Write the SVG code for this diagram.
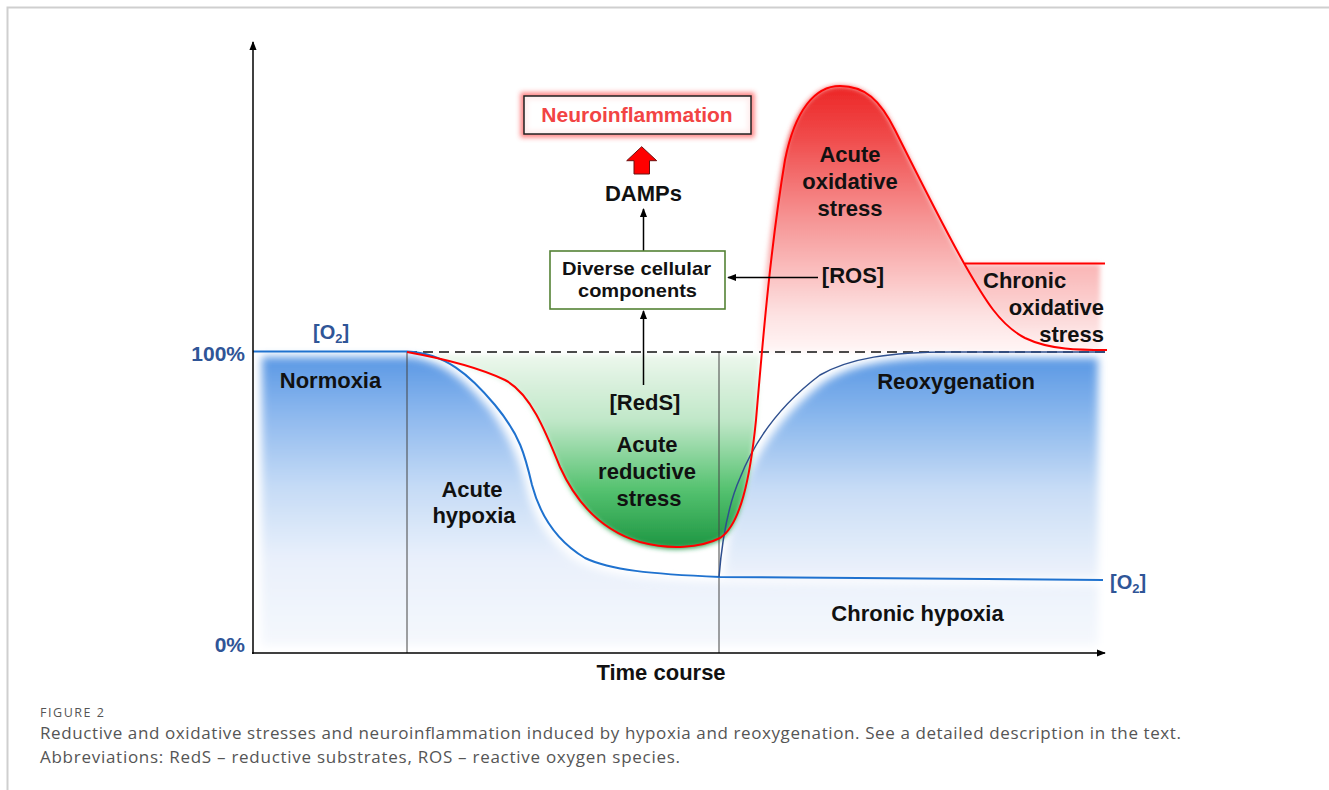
<svg xmlns="http://www.w3.org/2000/svg" width="1329" height="790" viewBox="0 0 1329 790">
<style>
.lb{font-family:"Liberation Sans",Arial,sans-serif;font-weight:bold;font-size:22px;fill:#111;text-anchor:middle}
.st{text-anchor:start}
.en{text-anchor:end}
.bl{font-family:"Liberation Sans",Arial,sans-serif;font-weight:bold;font-size:21px;fill:#2f5597}
.cap{font-family:"Open Sans","Liberation Sans",sans-serif;fill:#555}
.arr{stroke:#000;stroke-width:1.5;fill:none;marker-end:url(#ah)}
</style>
<defs>
<marker id="ah" viewBox="0 0 10 10" refX="9" refY="5" markerWidth="9" markerHeight="9" orient="auto" markerUnits="userSpaceOnUse"><path d="M0,1 L10,5 L0,9 Z" fill="#000"/></marker>
<filter id="soft" x="-10%" y="-10%" width="120%" height="120%"><feGaussianBlur stdDeviation="4"/></filter>
<filter id="soft2" x="-10%" y="-10%" width="120%" height="120%"><feGaussianBlur stdDeviation="2.5"/></filter>
<filter id="glow" x="-20%" y="-50%" width="140%" height="200%"><feGaussianBlur stdDeviation="2.5"/></filter>
<linearGradient id="gBlue" gradientUnits="userSpaceOnUse" x1="0" y1="357" x2="0" y2="645">
<stop offset="0" stop-color="#5a98e4"/><stop offset="0.2" stop-color="#8db8ee"/><stop offset="0.45" stop-color="#c5dbf6"/><stop offset="0.7" stop-color="#e9f0fb"/><stop offset="1" stop-color="#f5f8fd"/>
</linearGradient>
<linearGradient id="gReox" gradientUnits="userSpaceOnUse" x1="0" y1="358" x2="0" y2="580">
<stop offset="0" stop-color="#5a98e4"/><stop offset="0.3" stop-color="#90bbee"/><stop offset="0.6" stop-color="#c9ddf6"/><stop offset="1" stop-color="#eef3fb"/>
</linearGradient>
<linearGradient id="gGreen" gradientUnits="userSpaceOnUse" x1="0" y1="352" x2="0" y2="548">
<stop offset="0" stop-color="#eef8ee"/><stop offset="0.35" stop-color="#c0e7c8"/><stop offset="0.7" stop-color="#55c270"/><stop offset="1" stop-color="#1d9642"/>
</linearGradient>
<linearGradient id="gRed" gradientUnits="userSpaceOnUse" x1="0" y1="86" x2="0" y2="352">
<stop offset="0" stop-color="#ec2626"/><stop offset="0.18" stop-color="#f04848"/><stop offset="0.5" stop-color="#f69494"/><stop offset="0.85" stop-color="#fde0e0"/><stop offset="1" stop-color="#fff6f6"/>
</linearGradient>
<linearGradient id="gChr" gradientUnits="userSpaceOnUse" x1="0" y1="263" x2="0" y2="352">
<stop offset="0" stop-color="#f9b4b4"/><stop offset="0.6" stop-color="#fcd8d8"/><stop offset="1" stop-color="#fff4f4"/>
</linearGradient>
</defs>
<rect width="1329" height="790" fill="#fff"/>
<path d="M7.5,790 L7.5,7.5 L1329,7.5" fill="none" stroke="#cfcfcf" stroke-width="2"/>

<g id="fills">
<path d="M262,357 L405,357 C440,358 465,380 490,410 C508,435 520,460 527,490 C535,520 550,545 580,563 C610,576 650,580 720,582 L1098,585 L1098,645 L262,645 Z" fill="url(#gBlue)" filter="url(#soft)"/>
<path d="M724,578 C727,545 733,510 745,483 C760,448 785,412 823,383 C852,364 890,358 950,358 L1098,358 L1098,578 Z" fill="url(#gReox)" filter="url(#soft)"/>
<path d="M418,355 C445,360 482,370 505,382 C530,395 545,432 560,469 C575,502 600,532 640,544 C670,552 700,550 720,540 C740,527 750,482 756,422 L760,355 Z" fill="url(#gGreen)" filter="url(#soft2)"/>
<path d="M962,264 L1100,264 L1100,350 L962,350 Z" fill="url(#gChr)" filter="url(#soft2)"/>
<path d="M758,352 C763,290 770,230 783,160 C793,110 815,86 840,86 C865,86 880,100 895,130 C915,170 945,230 965,265 C985,300 1000,325 1025,338 C1050,350 1080,350 1107,350 L1107,352 Z" fill="url(#gRed)" filter="url(#soft2)"/>
</g>

<g id="gridlines">
<line x1="407" y1="352" x2="407" y2="653" stroke="#444" stroke-width="1"/>
<line x1="719" y1="352" x2="719" y2="653" stroke="#444" stroke-width="1"/>
<line x1="407" y1="352" x2="1108" y2="352" stroke="#111" stroke-width="1.6" stroke-dasharray="10,6"/>
</g>

<g id="curves">
<path id="o2curve" d="M253,351.5 L407,351.5 C445,353 470,375 495,405 S525,455 532,485 C540,515 555,540 585,558 C610,570 650,574 720,577 L1103,580" fill="none" stroke="#1f72cf" stroke-width="2"/>
<path id="reoxcurve" d="M719,577 C722,540 728,505 740,478 C755,440 780,405 820,375 C850,358 890,352 950,352 L1105,352" fill="none" stroke="#2e4f8e" stroke-width="1.5"/>
<path id="redcurve" d="M407,352 C440,358 480,368 505,380 C530,393 545,430 560,467 C575,500 600,530 640,542 C670,550 700,548 720,538 C740,525 750,480 756,420 C762,350 770,250 785,160 C795,110 815,86 840,86 C865,86 880,100 895,130 C915,170 945,230 965,265 C985,300 1000,325 1025,338 C1050,350 1080,350 1107,350" fill="none" stroke="#ff0000" stroke-width="2"/>
<line x1="965" y1="263.5" x2="1105" y2="263.5" stroke="#ff0000" stroke-width="2"/>
</g>

<g id="axes">
<line x1="253" y1="654" x2="253" y2="42" class="arr" stroke-width="2"/>
<line x1="252" y1="653" x2="1105" y2="653" class="arr" stroke-width="2"/>
<text class="bl en" x="245" y="361">100%</text>
<text class="bl en" x="245" y="652">0%</text>
<text class="lb" x="661" y="680">Time course</text>
</g>

<g id="connectors">
<line x1="643.5" y1="251" x2="643.5" y2="209" class="arr"/>
<line x1="643.5" y1="385" x2="643.5" y2="311" class="arr"/>
<line x1="818" y1="277.5" x2="728" y2="277.5" class="arr"/>
<polygon points="641.7,146.7 656.7,160.7 649.5,160.7 649.5,174 634,174 634,160.7 626.7,160.7" fill="#ff0000" stroke="#6a1010" stroke-width="1"/>
</g>

<g id="neuroinflammation">
<rect x="524" y="96" width="227" height="38" fill="none" stroke="#ff4a4a" stroke-width="7" opacity="0.7" filter="url(#glow)"/>
<rect x="524" y="96" width="227" height="38" fill="#fff" fill-opacity="0.85" stroke="#222" stroke-width="1.5"/>
<text x="637" y="122" font-family="Liberation Sans, Arial, sans-serif" font-weight="bold" font-size="21" fill="#f24444" text-anchor="middle">Neuroinflammation</text>
</g>

<g id="damps"><text class="lb" x="643.5" y="201">DAMPs</text></g>

<g id="cellular">
<rect x="550" y="251" width="175" height="58" fill="#fff" stroke="#548235" stroke-width="1.6"/>
<text class="lb" x="636.5" y="274.5" font-size="19" textLength="149" lengthAdjust="spacingAndGlyphs" style="font-size:19px">Diverse cellular</text>
<text class="lb" x="637.5" y="296.5" textLength="119" lengthAdjust="spacingAndGlyphs" style="font-size:19px">components</text>
</g>

<g id="labels">
<text class="lb" x="645" y="410">[RedS]</text>
<text class="lb" x="853" y="283">[ROS]</text>
<text class="lb" x="647" y="452">Acute</text>
<text class="lb" x="647" y="479">reductive</text>
<text class="lb" x="649" y="506">stress</text>
<text class="lb" x="850" y="162">Acute</text>
<text class="lb" x="850" y="189">oxidative</text>
<text class="lb" x="850" y="216">stress</text>
<text class="lb st" x="983" y="288">Chronic</text>
<text class="lb en" x="1104" y="315">oxidative</text>
<text class="lb en" x="1104" y="342">stress</text>
<text class="lb" x="330.5" y="388">Normoxia</text>
<text class="lb" x="956" y="389">Reoxygenation</text>
<text class="lb" x="472" y="497">Acute</text>
<text class="lb" x="474" y="523">hypoxia</text>
<text class="lb" x="917.5" y="621">Chronic hypoxia</text>
<text class="bl" x="313" y="339" style="font-size:20px">[O<tspan style="font-size:13px" dy="4">2</tspan><tspan dy="-4">]</tspan></text>
<text class="bl" x="1110" y="589" style="font-size:20px">[O<tspan style="font-size:13px" dy="4">2</tspan><tspan dy="-4">]</tspan></text>
</g>

<g id="caption">
<text class="cap" x="40" y="717" font-size="12.5" textLength="64" lengthAdjust="spacing">FIGURE 2</text>
<text class="cap" x="40" y="739" font-size="17" textLength="1141" lengthAdjust="spacing">Reductive and oxidative stresses and neuroinflammation induced by hypoxia and reoxygenation. See a detailed description in the text.</text>
<text class="cap" x="40" y="763" font-size="17" textLength="640" lengthAdjust="spacing">Abbreviations: RedS – reductive substrates, ROS – reactive oxygen species.</text>
</g>
</svg>
